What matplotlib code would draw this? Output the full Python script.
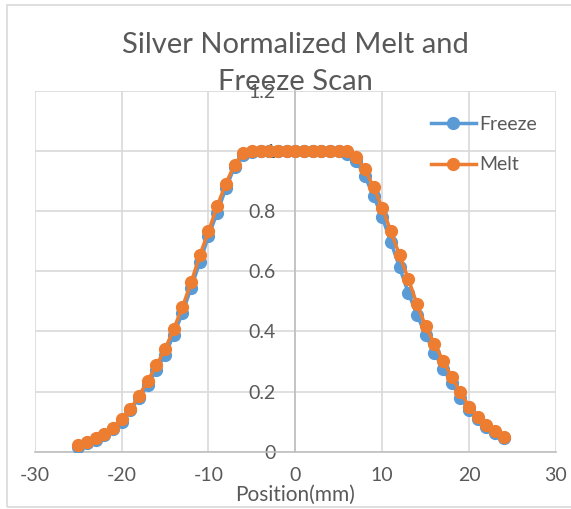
import matplotlib
matplotlib.use("Agg")
import matplotlib.pyplot as plt
from matplotlib.patches import Rectangle

plt.rcParams['font.family'] = ['Lato', 'DejaVu Sans']
plt.rcParams['axes.unicode_minus'] = False

positions = list(range(-25, 25))
freeze = [0.017, 0.028, 0.039, 0.056, 0.075, 0.100, 0.139, 0.178, 0.222, 0.272,
          0.322, 0.389, 0.461, 0.545, 0.630, 0.717, 0.795, 0.876, 0.948, 0.986,
          0.998, 1.0, 1.0, 1.0, 1.0, 1.0, 1.0, 1.0, 1.0, 1.0,
          1.0, 0.990, 0.967, 0.917, 0.850, 0.780, 0.697, 0.613, 0.528, 0.456,
          0.387, 0.330, 0.276, 0.228, 0.178, 0.139, 0.108, 0.083, 0.061, 0.045]
melt = [0.022, 0.031, 0.045, 0.059, 0.080, 0.109, 0.141, 0.186, 0.236, 0.287,
        0.341, 0.408, 0.481, 0.563, 0.653, 0.733, 0.817, 0.892, 0.955, 0.995,
        1.0, 1.0, 1.0, 1.0, 1.0, 1.0, 1.0, 1.0, 1.0, 1.0,
        1.0, 1.0, 0.981, 0.939, 0.881, 0.811, 0.733, 0.653, 0.575, 0.491,
        0.417, 0.359, 0.303, 0.248, 0.198, 0.150, 0.117, 0.089, 0.069, 0.050]
xticks = [-30, -20, -10, 0, 10, 20, 30]
yticks = [0, 0.2, 0.4, 0.6, 0.8, 1.0, 1.2]
ytick_labels = ['0', '0.2', '0.4', '0.6', '0.8', '1', '1.2']

W, H = 571, 509
fig = plt.figure(figsize=(W / 100, H / 100), dpi=100)
fig.patches.append(Rectangle((7 / W, 1 - 507 / H), (575 - 7) / W, (507 - 5) / H,
                             transform=fig.transFigure, fill=False,
                             edgecolor='#D9D9D9', linewidth=1.2))

left, right, top, bottom = 34.7, 556, 91, 451.7
ax = fig.add_axes([left / W, 1 - bottom / H, (right - left) / W, (bottom - top) / H])

blue = '#5B9BD5'
orange = '#ED7D31'
ax.plot(positions, freeze, color=blue, lw=2.5, marker='o', ms=8.5,
        label='Freeze', zorder=3)
ax.plot(positions, melt, color=orange, lw=2.5, marker='o', ms=8.5,
        label='Melt', zorder=4)

ax.set_xlim(-30, 30)
ax.set_ylim(0, 1.2)
ax.set_xticks(xticks)
ax.set_yticks(yticks)
ax.set_yticklabels(ytick_labels)
ax.grid(True, color='#D9D9D9', lw=1.2)
ax.set_axisbelow(True)
for s in ['top', 'right']:
    ax.spines[s].set_visible(False)
ax.spines['bottom'].set_color('#BFBFBF')
ax.spines['bottom'].set_linewidth(1.2)
ax.spines['left'].set_position(('data', 0))
ax.spines['left'].set_color('#BFBFBF')
ax.spines['left'].set_linewidth(1.2)
ax.tick_params(axis='both', length=0, labelsize=14, colors='#595959')
ax.tick_params(axis='y', pad=14)
ax.tick_params(axis='x', pad=11)

fig.text(295 / W, 1 - 45 / H, 'Silver Normalized Melt and', ha='center', va='center',
         fontsize=21, color='#595959')
fig.text(295 / W, 1 - 82 / H, 'Freeze Scan', ha='center', va='center',
         fontsize=21, color='#595959')
fig.text(295 / W, 1 - 495 / H, 'Position(mm)', ha='center', va='center',
         fontsize=15, color='#595959')

leg = ax.legend(loc='upper left', bbox_to_anchor=(431 / W, 1 - 116 / H),
                bbox_transform=fig.transFigure, frameon=False, fontsize=14,
                labelcolor='#595959', handlelength=2.3, handletextpad=0.2,
                labelspacing=1.2, borderaxespad=0, borderpad=0)

fig.savefig('out.png', dpi=100)
